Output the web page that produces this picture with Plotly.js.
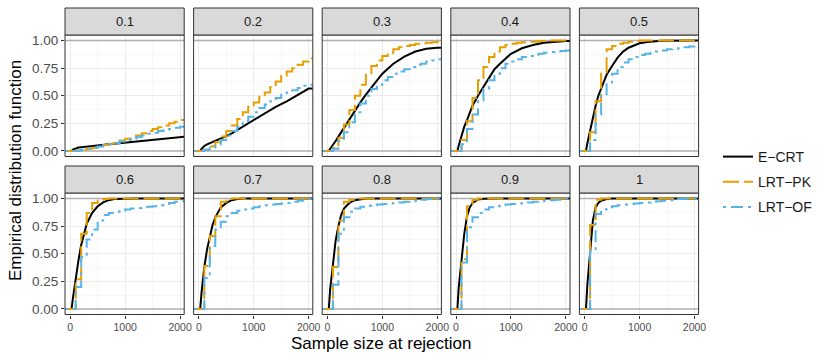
<!DOCTYPE html>
<html>
<head>
<meta charset="utf-8">
<script src="https://cdn.plot.ly/plotly-3.0.1.min.js"></script>
<style>
  body { margin: 0; background: #ffffff; }
  #ecdf-graph { width: 830px; height: 363px; }
</style>
</head>
<body>
<div id="ecdf-graph"></div>
<script>
/*
 * DATA
 *
*/

// facet labels (effect size)
var panels = ['0.1', '0.2', '0.3', '0.4', '0.5', '0.6', '0.7', '0.8', '0.9', '1'];
var methods = ['E\u2212CRT', 'LRT\u2212PK', 'LRT\u2212OF'];

// E-CRT is evaluated on a fine grid of sample sizes
var ecrt_n = [25, 50, 100, 150, 200, 250, 300, 400, 500, 600, 700, 800, 1000, 1200, 1400, 1600, 1800, 2000];
var ecrt = [
    [0, 0.012, 0.025, 0.031, 0.034, 0.036, 0.038, 0.044, 0.05, 0.055, 0.06, 0.065, 0.075, 0.085, 0.093, 0.102, 0.115, 0.128],
    [0, 0.02, 0.045, 0.06, 0.07, 0.08, 0.09, 0.11, 0.135, 0.16, 0.19, 0.22, 0.28, 0.34, 0.4, 0.45, 0.51, 0.565],
    [0, 0.02, 0.05, 0.09, 0.13, 0.17, 0.2, 0.28, 0.36, 0.44, 0.51, 0.575, 0.7, 0.79, 0.855, 0.9, 0.925, 0.935],
    [0, 0.05, 0.14, 0.22, 0.28, 0.35, 0.41, 0.5, 0.58, 0.67, 0.74, 0.79, 0.88, 0.93, 0.96, 0.98, 0.99, 0.995],
    [0, 0.07, 0.19, 0.31, 0.41, 0.5, 0.57, 0.69, 0.77, 0.845, 0.9, 0.935, 0.975, 0.99, 0.997, 1, 1, 1],
    [0, 0.1, 0.28, 0.44, 0.58, 0.69, 0.77, 0.87, 0.93, 0.965, 0.985, 0.995, 1, 1, 1, 1, 1, 1],
    [0, 0.15, 0.38, 0.54, 0.66, 0.76, 0.83, 0.92, 0.96, 0.985, 0.995, 1, 1, 1, 1, 1, 1, 1],
    [0, 0.18, 0.42, 0.62, 0.75, 0.85, 0.91, 0.96, 0.985, 0.995, 1, 1, 1, 1, 1, 1, 1, 1],
    [0, 0.2, 0.47, 0.68, 0.84, 0.92, 0.96, 0.99, 0.997, 1, 1, 1, 1, 1, 1, 1, 1, 1],
    [0, 0.22, 0.55, 0.8, 0.92, 0.96, 0.98, 0.995, 1, 1, 1, 1, 1, 1, 1, 1, 1, 1]
];

// LRTs are only looked at every 100 observations
var looks = [100, 200, 300, 400, 500, 600, 700, 800, 900, 1000, 1100, 1200, 1300, 1400, 1500, 1600, 1700, 1800, 1900, 2000];
var lrt_pk = [
    [0.005, 0.01, 0.02, 0.03, 0.045, 0.055, 0.065, 0.08, 0.095, 0.11, 0.125, 0.14, 0.16, 0.18, 0.2, 0.215, 0.23, 0.25, 0.265, 0.28],
    [0.01, 0.04, 0.08, 0.13, 0.18, 0.23, 0.29, 0.35, 0.4, 0.44, 0.49, 0.53, 0.58, 0.63, 0.68, 0.72, 0.75, 0.78, 0.81, 0.84],
    [0.03, 0.12, 0.24, 0.37, 0.5, 0.6, 0.69, 0.77, 0.82, 0.86, 0.89, 0.92, 0.94, 0.95, 0.96, 0.97, 0.975, 0.98, 0.985, 0.99],
    [0.1, 0.27, 0.48, 0.64, 0.76, 0.85, 0.9, 0.94, 0.96, 0.97, 0.98, 0.985, 0.99, 0.99, 0.995, 0.995, 1, 1, 1, 1],
    [0.17, 0.45, 0.7, 0.92, 0.95, 0.97, 0.98, 0.99, 0.995, 1, 1, 1, 1, 1, 1, 1, 1, 1, 1, 1],
    [0.27, 0.68, 0.87, 0.96, 0.99, 0.995, 1, 1, 1, 1, 1, 1, 1, 1, 1, 1, 1, 1, 1, 1],
    [0.39, 0.66, 0.84, 0.97, 0.995, 1, 1, 1, 1, 1, 1, 1, 1, 1, 1, 1, 1, 1, 1, 1],
    [0.38, 0.8, 0.97, 0.99, 1, 1, 1, 1, 1, 1, 1, 1, 1, 1, 1, 1, 1, 1, 1, 1],
    [0.45, 0.93, 0.99, 1, 1, 1, 1, 1, 1, 1, 1, 1, 1, 1, 1, 1, 1, 1, 1, 1],
    [0.76, 0.99, 1, 1, 1, 1, 1, 1, 1, 1, 1, 1, 1, 1, 1, 1, 1, 1, 1, 1]
];
var lrt_of = [
    [0.003, 0.01, 0.02, 0.03, 0.04, 0.05, 0.06, 0.07, 0.085, 0.1, 0.11, 0.125, 0.14, 0.155, 0.165, 0.18, 0.19, 0.2, 0.21, 0.22],
    [0.01, 0.03, 0.06, 0.1, 0.14, 0.18, 0.22, 0.27, 0.31, 0.35, 0.39, 0.42, 0.45, 0.48, 0.51, 0.53, 0.55, 0.57, 0.59, 0.6],
    [0.02, 0.09, 0.17, 0.26, 0.35, 0.43, 0.5, 0.56, 0.6, 0.64, 0.67, 0.7, 0.72, 0.74, 0.76, 0.78, 0.79, 0.81, 0.82, 0.83],
    [0.06, 0.2, 0.33, 0.46, 0.56, 0.64, 0.7, 0.75, 0.79, 0.81, 0.83, 0.85, 0.86, 0.87, 0.88, 0.89, 0.895, 0.9, 0.905, 0.91],
    [0.1, 0.33, 0.5, 0.62, 0.7, 0.76, 0.8, 0.83, 0.85, 0.87, 0.88, 0.89, 0.9, 0.91, 0.92, 0.925, 0.93, 0.94, 0.945, 0.95],
    [0.2, 0.47, 0.63, 0.72, 0.8, 0.85, 0.87, 0.88, 0.89, 0.9, 0.91, 0.915, 0.92, 0.925, 0.93, 0.94, 0.95, 0.96, 0.97, 0.975],
    [0.28, 0.57, 0.72, 0.79, 0.84, 0.87, 0.89, 0.9, 0.91, 0.92, 0.93, 0.94, 0.945, 0.95, 0.955, 0.96, 0.97, 0.98, 0.99, 0.995],
    [0.22, 0.68, 0.83, 0.88, 0.91, 0.925, 0.935, 0.94, 0.945, 0.95, 0.955, 0.96, 0.965, 0.97, 0.975, 0.98, 0.99, 0.995, 1, 1],
    [0.42, 0.74, 0.83, 0.87, 0.9, 0.92, 0.93, 0.94, 0.945, 0.95, 0.955, 0.96, 0.965, 0.97, 0.975, 0.98, 0.985, 0.99, 0.995, 1],
    [0.54, 0.86, 0.9, 0.92, 0.93, 0.94, 0.945, 0.95, 0.955, 0.96, 0.965, 0.97, 0.975, 0.98, 0.985, 0.99, 0.995, 1, 1, 1]
];

// reference levels drawn in grey
var ref_levels = [0, 1];

var x_ticks = [0, 1000, 2000];
var y_ticks = [0, 0.25, 0.5, 0.75, 1];

/*
 * PLOTTING
 *
*/

function ecdf_facets() {
    var W = 830, H = 363;
    var x_range = [-95, 2075];
    var y_range = [-0.05, 1.05];
    var col_left = [65, 193.6, 322.2, 450.8, 579.4];
    var panel_w = 119.2;
    var row_top = [35, 193];
    var panel_h = 121.5;
    var strip_h = 27;
    var font = 'Liberation Sans, Arial, sans-serif';

    var colors = ['#000000', '#E69F00', '#56B4E9'];
    var dashes = ['solid', '16px,5px', '3px,5px,12px,5px'];

    var data = [];
    var layout = {
        width: W, height: H,
        margin: {l: 0, r: 0, t: 0, b: 0},
        paper_bgcolor: '#ffffff',
        plot_bgcolor: '#ffffff',
        font: {family: font, color: '#1a1a1a'},
        showlegend: true,
        legend: {
            x: 718 / W, y: 1 - 182 / H, xanchor: 'left', yanchor: 'middle',
            font: {size: 14, family: font, color: '#1a1a1a'},
            tracegroupgap: 4,
            bgcolor: 'rgba(0,0,0,0)'
        },
        shapes: [],
        annotations: []
    };

    for (var i = 0; i < panels.length; i++) {
        var col = i % 5, row = Math.floor(i / 5);
        var n = i + 1;
        var xa = 'x' + (n === 1 ? '' : n), ya = 'y' + (n === 1 ? '' : n);
        var x0 = col_left[col], x1 = x0 + panel_w;
        var top = row_top[row], bot = top + panel_h;

        layout['xaxis' + (n === 1 ? '' : n)] = {
            domain: [x0 / W, x1 / W], anchor: ya,
            range: x_range, tickvals: x_ticks,
            showgrid: true, gridcolor: '#ebebeb', gridwidth: 1,
            minor: {dtick: 500, tick0: 0, showgrid: true, gridcolor: '#f2f2f2', gridwidth: 0.6},
            zeroline: false, showline: false,
            ticks: row === 1 ? 'outside' : '', ticklen: 3, tickcolor: '#333333',
            showticklabels: row === 1,
            tickfont: {size: 10.5, color: '#4d4d4d', family: font},
            fixedrange: true
        };
        layout['yaxis' + (n === 1 ? '' : n)] = {
            domain: [1 - bot / H, 1 - top / H], anchor: xa,
            range: y_range, tickvals: y_ticks, tickformat: '.2f',
            showgrid: true, gridcolor: '#ebebeb', gridwidth: 1,
            minor: {dtick: 0.125, tick0: 0, showgrid: true, gridcolor: '#f2f2f2', gridwidth: 0.6},
            zeroline: false, showline: false,
            ticks: col === 0 ? 'outside' : '', ticklen: 3, tickcolor: '#333333',
            showticklabels: col === 0,
            tickfont: {size: 13.5, color: '#4d4d4d', family: font},
            fixedrange: true
        };

        // grey reference lines at 0 and 1
        ref_levels.forEach(function (v) {
            data.push({
                x: x_range, y: [v, v], xaxis: xa, yaxis: ya,
                type: 'scatter', mode: 'lines', showlegend: false,
                line: {color: '#b0b0b0', width: 1.6}, hoverinfo: 'skip'
            });
        });

        // panel border and strip
        layout.shapes.push({
            type: 'rect', xref: 'paper', yref: 'paper',
            x0: x0 / W, x1: x1 / W, y0: 1 - bot / H, y1: 1 - top / H,
            line: {color: '#333333', width: 1}, fillcolor: 'rgba(0,0,0,0)', layer: 'above'
        });
        layout.shapes.push({
            type: 'rect', xref: 'paper', yref: 'paper',
            x0: x0 / W, x1: x1 / W, y0: 1 - top / H, y1: 1 - (top - strip_h) / H,
            line: {color: '#333333', width: 1}, fillcolor: '#d9d9d9', layer: 'above'
        });
        layout.annotations.push({
            text: panels[i], xref: 'paper', yref: 'paper',
            x: (x0 + x1) / 2 / W, y: 1 - (top - strip_h / 2) / H,
            xanchor: 'center', yanchor: 'middle', showarrow: false,
            font: {size: 13, color: '#1a1a1a', family: font}
        });

        // traces: E-CRT (smooth), LRT-PK and LRT-OF (steps at looks)
        var ex = [x_range[0]].concat(ecrt_n, [x_range[1]]);
        var ey = [0].concat(ecrt[i], [ecrt[i][ecrt[i].length - 1]]);
        var lx = [x_range[0]].concat(looks, [x_range[1]]);
        var series = [
            {x: ex, y: ey, shape: 'linear'},
            {x: lx, y: [0].concat(lrt_pk[i], [lrt_pk[i][lrt_pk[i].length - 1]]), shape: 'hv'},
            {x: lx, y: [0].concat(lrt_of[i], [lrt_of[i][lrt_of[i].length - 1]]), shape: 'hv'}
        ];
        for (var s = 0; s < 3; s++) {
            data.push({
                x: series[s].x, y: series[s].y,
                xaxis: xa, yaxis: ya,
                type: 'scatter', mode: 'lines',
                name: methods[s], legendgroup: methods[s],
                showlegend: i === 0,
                line: {color: colors[s], width: 2, dash: dashes[s], shape: series[s].shape},
                hoverinfo: 'skip'
            });
        }
    }

    // axis titles
    layout.annotations.push({
        text: 'Sample size at rejection', xref: 'paper', yref: 'paper',
        x: 381 / W, y: 1 - 343 / H,
        xanchor: 'center', yanchor: 'middle', showarrow: false,
        font: {size: 17, color: '#000000', family: font}
    });
    layout.annotations.push({
        text: 'Empirical distribution function', xref: 'paper', yref: 'paper',
        x: 15 / W, y: 1 - 171 / H, textangle: -90,
        xanchor: 'center', yanchor: 'middle', showarrow: false,
        font: {size: 17, color: '#000000', family: font}
    });

    Plotly.newPlot('ecdf-graph', data, layout, {staticPlot: true, displayModeBar: false});
}

ecdf_facets();
</script>
</body>
</html>
